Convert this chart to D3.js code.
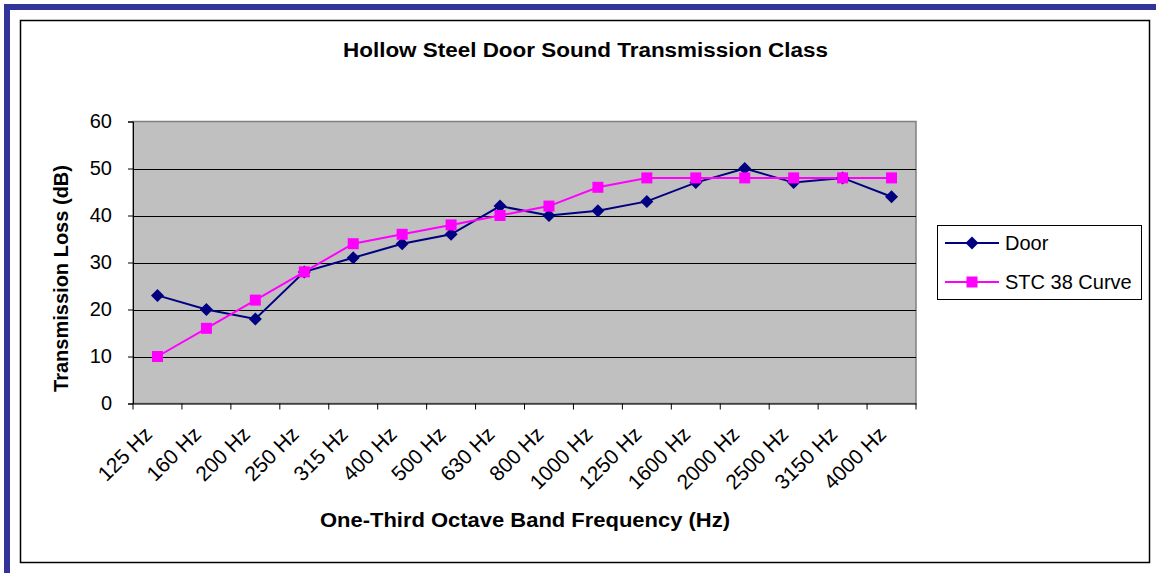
<!DOCTYPE html>
<html><head><meta charset="utf-8">
<script src="https://cdn.jsdelivr.net/npm/d3@7"></script>
<style>html,body{margin:0;padding:0;background:#fff;}svg{display:block;font-family:"Liberation Sans",Arial,sans-serif;}</style>
</head><body><svg id="c" width="1156" height="573"></svg>
<script>
const categories = ["125 Hz","160 Hz","200 Hz","250 Hz","315 Hz","400 Hz","500 Hz","630 Hz","800 Hz","1000 Hz","1250 Hz","1600 Hz","2000 Hz","2500 Hz","3150 Hz","4000 Hz"];
const doorValues = [23,20,18,28,31,34,36,42,40,41,43,47,50,47,48,44];
const stcValues = [10,16,22,28,34,36,38,40,42,46,48,48,48,48,48,48];
const yTicks = [0,10,20,30,40,50,60];
const seriesNames = ["Door","STC 38 Curve"];

const svg = d3.select("#c");
// blue page border
svg.append("rect").attr("x",4).attr("y",4).attr("width",1152).attr("height",6).attr("fill","#333399");
svg.append("rect").attr("x",4).attr("y",4).attr("width",6).attr("height",569).attr("fill","#333399");
// chart frame
svg.append("rect").attr("x",20.5).attr("y",20.5).attr("width",1129).attr("height",542).attr("fill","#fff").attr("stroke","#000").attr("stroke-width",1.5);

const m = {l:133,t:121.5,r:916,b:403.5};
const x = d3.scaleBand().domain(categories).range([m.l,m.r]);
const y = d3.scaleLinear().domain([0,60]).range([m.b,m.t]);

svg.append("rect").attr("x",m.l).attr("y",m.t).attr("width",m.r-m.l).attr("height",m.b-m.t).attr("fill","#C0C0C0").attr("stroke","#808080").attr("stroke-width",1.5);
// gridlines
svg.append("g").selectAll("line").data(yTicks.filter(d=>d>0&&d<60)).join("line")
  .attr("x1",m.l).attr("x2",m.r).attr("y1",d=>Math.round(y(d))+0.5).attr("y2",d=>Math.round(y(d))+0.5).attr("stroke","#000").attr("stroke-width",1);

// y axis
const ya = svg.append("g").attr("transform",`translate(${m.l},0)`)
  .call(d3.axisLeft(y).tickValues(yTicks).tickSize(5).tickPadding(16));
ya.select(".domain").attr("stroke","#000");
ya.selectAll("text").attr("font-size",20).attr("fill","#000").attr("font-family","Liberation Sans, Arial, sans-serif");
// x axis
const xa = svg.append("g").attr("transform",`translate(0,${m.b})`)
  .call(d3.axisBottom(x).tickSize(0).tickFormat(""));
xa.select(".domain").attr("stroke","#000");
svg.append("g").selectAll("line").data(categories.concat(["end"])).join("line")
  .attr("x1",(d,i)=>m.l+i*x.step()).attr("x2",(d,i)=>m.l+i*x.step())
  .attr("y1",m.b).attr("y2",m.b+6).attr("stroke","#000");
svg.append("g").selectAll("text").data(categories).join("text")
  .attr("transform",d=>`translate(${x(d)+x.bandwidth()/2-4},${m.b+32}) rotate(-45)`)
  .attr("text-anchor","end").attr("font-size",21).attr("fill","#000").text(d=>d);

// lines
const line = d3.line().x((d,i)=>x(categories[i])+x.bandwidth()/2).y(d=>y(d));
svg.append("path").datum(doorValues).attr("d",line).attr("fill","none").attr("stroke","#000080").attr("stroke-width",2);
svg.append("path").datum(stcValues).attr("d",line).attr("fill","none").attr("stroke","#FF00FF").attr("stroke-width",2);
const diamond = s=>`M0,${-s}L${s},0L0,${s}L${-s},0Z`;
svg.append("g").selectAll("path").data(doorValues).join("path")
  .attr("transform",(d,i)=>`translate(${x(categories[i])+x.bandwidth()/2},${y(d)})`)
  .attr("d",diamond(6.5)).attr("fill","#000080");
svg.append("g").selectAll("rect").data(stcValues).join("rect")
  .attr("x",(d,i)=>x(categories[i])+x.bandwidth()/2-5.5).attr("y",d=>y(d)-5.5)
  .attr("width",11).attr("height",11).attr("fill","#FF00FF");

// titles
svg.append("text").attr("x",343).attr("y",57).attr("font-size",20).attr("font-weight","bold")
  .attr("textLength",485).attr("lengthAdjust","spacingAndGlyphs").text("Hollow Steel Door Sound Transmission Class");
svg.append("text").attr("x",320).attr("y",527).attr("font-size",20).attr("font-weight","bold")
  .attr("textLength",410).attr("lengthAdjust","spacingAndGlyphs").text("One-Third Octave Band Frequency (Hz)");
svg.append("text").attr("transform","translate(68,392) rotate(-90)").attr("font-size",20.5).attr("font-weight","bold")
  .attr("textLength",227).attr("lengthAdjust","spacingAndGlyphs").text("Transmission Loss (dB)");

// legend
const lg = svg.append("g");
lg.append("rect").attr("x",937.5).attr("y",225.5).attr("width",204).attr("height",74).attr("fill","#fff").attr("stroke","#000").attr("stroke-width",1);
const lgy = [243,282];
seriesNames.forEach((n,i)=>{
  const c = i===0?"#000080":"#FF00FF";
  lg.append("line").attr("x1",945).attr("x2",999).attr("y1",lgy[i]).attr("y2",lgy[i]).attr("stroke",c).attr("stroke-width",2);
  if(i===0) lg.append("path").attr("transform",`translate(972,${lgy[i]})`).attr("d",diamond(6.5)).attr("fill",c);
  else lg.append("rect").attr("x",966.5).attr("y",lgy[i]-5.5).attr("width",11).attr("height",11).attr("fill",c);
  lg.append("text").attr("x",1005).attr("y",lgy[i]+7).attr("font-size",20).text(n);
});
</script></body></html>
